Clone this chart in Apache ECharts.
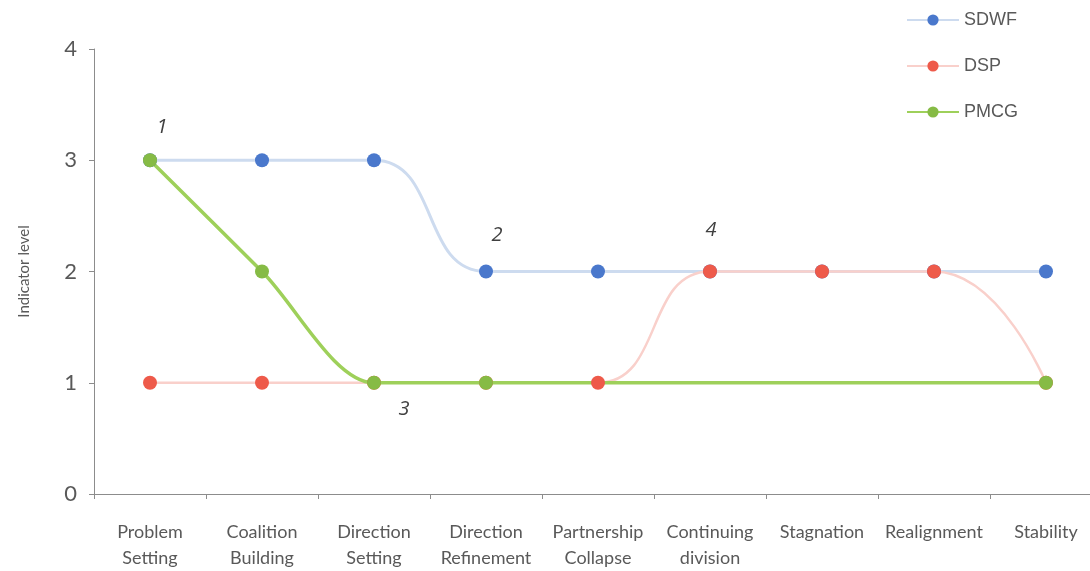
<!DOCTYPE html>
<html>
<head>
<meta charset="utf-8">
<script src="https://cdn.jsdelivr.net/npm/echarts@6/dist/echarts.min.js"></script>
<style>
  html, body { margin: 0; padding: 0; background: #fff; overflow: hidden; }
  #chart { width: 1102px; height: 571px; }
</style>
</head>
<body>
<div id="chart"></div>
<script>
// stages along the x axis
const stages = ['Problem\nSetting', 'Coalition\nBuilding', 'Direction\nSetting', 'Direction\nRefinement',
  'Partnership\nCollapse', 'Continuing\ndivision', 'Stagnation', 'Realignment', 'Stability'];
// indicator levels per series
const sdwf = [3, 3, 3, 2, 2, 2, 2, 2, 2];
const dsp = [1, 1, 1, 1, 1, 2, 2, 2, 1];
const pmcg = [3, 2, 1, 1, null, null, null, null, 1];
const yTicks = [0, 1, 2, 3, 4];
// numbered annotations: [stage index, level, label, offset]
const notes = [
  [0, 3, '1', [12, -33]],
  [3, 2, '2', [11, -36]],
  [2, 1, '3', [30, 27]],
  [5, 2, '4', [1, -41]]
];

const chart = echarts.init(document.getElementById('chart'));
const grey = '#595959';

chart.setOption({
  animation: false,
  textStyle: { fontFamily: 'Lato' },
  legend: {
    orient: 'vertical',
    left: 901,
    top: 6,
    itemWidth: 52,
    itemHeight: 14,
    itemGap: 28,
    textStyle: { color: grey, fontSize: 18, fontFamily: 'Liberation Sans' },
    data: ['SDWF', 'DSP', 'PMCG']
  },
  grid: { left: 94, right: 0, top: 49, bottom: 77 },
  xAxis: {
    type: 'category',
    data: stages,
    boundaryGap: true,
    axisLine: { lineStyle: { color: '#8c8c8c', width: 1 } },
    axisTick: { show: true, length: 5, lineStyle: { color: '#8c8c8c' } },
    axisLabel: { color: grey, fontSize: 18, lineHeight: 26, margin: 25, interval: 0 }
  },
  yAxis: {
    type: 'value',
    min: 0,
    max: 4,
    interval: 1,
    name: 'Indicator level',
    nameLocation: 'middle',
    nameGap: 62,
    nameTextStyle: { color: grey, fontSize: 15 },
    axisLine: { show: true, lineStyle: { color: '#8c8c8c' } },
    axisTick: { show: true, length: 5, lineStyle: { color: '#8c8c8c' } },
    splitLine: { show: false },
    axisLabel: {
      color: grey, fontSize: 22, margin: 17,
      formatter: v => yTicks.includes(v) ? String(v) : ''
    }
  },
  series: [
    {
      name: 'SDWF',
      type: 'line',
      data: sdwf,
      smooth: 0.5,
      symbol: 'circle',
      symbolSize: 14,
      itemStyle: { color: '#4a78cc' },
      lineStyle: { color: '#cddbef', width: 3 },
      markPoint: {
        symbol: 'circle',
        symbolSize: 0,
        data: notes.map(n => ({
          coord: [n[0], n[1]],
          value: n[2],
          label: {
            show: true, formatter: n[2], offset: n[3],
            color: '#404040', fontSize: 20, fontStyle: 'italic', fontFamily: 'Open Sans'
          }
        }))
      }
    },
    {
      name: 'DSP',
      type: 'line',
      data: dsp,
      smooth: 0.5,
      symbol: 'circle',
      symbolSize: 14,
      itemStyle: { color: '#ee5a4a' },
      lineStyle: { color: '#f9d0cb', width: 2.5 }
    },
    {
      name: 'PMCG',
      type: 'line',
      data: pmcg,
      connectNulls: true,
      smooth: 0.3,
      symbol: 'circle',
      symbolSize: 14,
      itemStyle: { color: '#86bb45' },
      lineStyle: { color: '#9ed05a', width: 3.5 }
    }
  ]
});
</script>
</body>
</html>
